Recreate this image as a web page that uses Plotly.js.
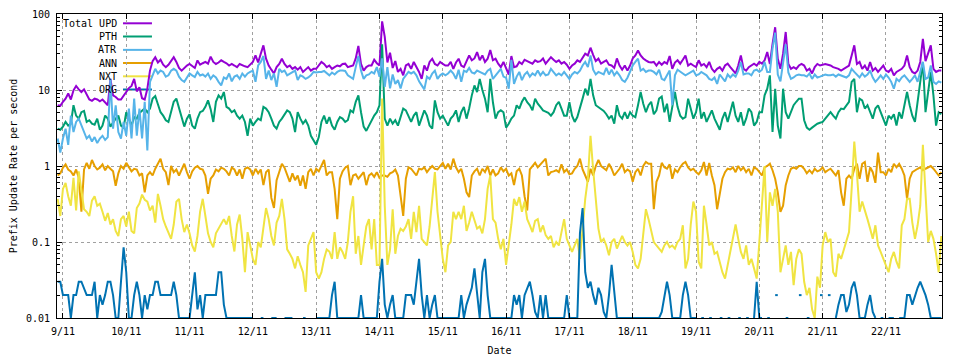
<!DOCTYPE html>
<html><head><meta charset="utf-8">
<script src="https://cdn.plot.ly/plotly-3.0.1.min.js"></script>
<style>html,body{margin:0;padding:0;background:#fff}#chart{width:960px;height:360px}</style>
</head><body><div id="chart"></div>
<script>
// hourly samples starting 2023-11-08 22:00
const startUTC = Date.UTC(2023, 10, 8, 22);

const totalUpd = [
6.3,6.2,7,7.7,9,7.5,9.9,11.3,10.2,9.4,
10.2,8.7,7.5,7.2,7.7,7.5,7.1,7.5,6.8,6.3,
14,8.5,8.1,7.5,7.5,8.5,9.4,10.6,11.3,14,
9.6,10.9,7.8,7.5,10.4,18,24,27,23,25,
21.5,20,21.5,24,27,23.4,19.5,18,19.5,21,
22,20.5,19.5,24.5,21.5,22.5,
23.4,22.2,27.5,23.4,22,23,24.6,23.4,22.5,21,
22,21,20,22,21,20.5,20,21.5,23.4,28.5,
23,30,38.7,25.8,21,18.5,16.5,20,22,25.8,
22,20,21,19,20,18.5,20,17.3,18.5,20,
18,19,19,21,23.4,22,20,21,19,20,
21,20.5,22,22.2,20,20.5,21,
26,38,22,18,20,21,21,25,22.5,21,
80,50,23,31,19.5,24,17.3,19,15.6,21,
22,19,23.4,20,17.3,14,21,18,23.4,25.8,
22,21,23.4,22,21,21,23.4,19,23,25.8,
21,20,24.6,28.5,24.6,26,31.6,24.6,28.5,23.4,
25.8,33.5,24.6,25.8,22.2,20,23.4,
19,16,28,20,20.5,23.4,22,25,24,23,
22.2,24.6,23.4,24,26,22.2,24.6,27,25,23.4,
24.6,22.2,23.4,21.5,19,21,22.2,24.6,23.4,26,
30,28.5,36,29,24,25.8,22.2,23.4,24.6,21.5,
21,19.5,26,21,18.5,21,18,21,26,28.5,
33,28.5,26,24.6,23.4,23,
23.4,21,23.4,21.5,23.4,22.2,28,19,23,24.6,
22.2,25,28.5,21,22.2,21,20,24.6,21,22,
20,23.4,19,17.3,19,20,18,21,22.2,20,
18,16.5,21,28.5,19,18,20,21,22.2,21,
23.4,22.2,24.6,31.6,22,40,67,25.8,19,30,
58,22,19,20,19,21,22,
21,18,19,16.5,20,22,21,21.5,22,21.5,
21,20,19.5,19,18,19,20,21,28.5,38.7,
22,23.4,19,21,18,23.4,18,19.5,17.3,19,
21,18,17.3,19,15.6,17.3,18,19,21,28.5,
20,17.3,16.5,18,23.4,47,24,31.6,38.7,19,
17.3,18,18
];

const pth = [
3.1,3.0,3.3,3.8,3.4,3.6,6.3,4.6,4.2,5.1,
5.3,3.8,4.0,3.6,3.5,4.2,3.0,3.4,4.6,4.2,
3.3,3.8,4.2,4.6,3.4,3.2,5.1,4.2,3.4,4.4,
4.2,5.0,5.4,5.7,5.1,5.7,7.7,8.3,6.5,5.1,
4.6,4.0,3.8,5.1,7.0,7.7,5.7,4.2,3.3,4.2,
4.8,3.4,3.1,4.2,5.1,5.3,
6.0,7.3,5.6,3.8,7.0,8.5,7.7,9.4,6.0,5.7,
5.1,5.4,4.6,4.2,4.6,3.8,2.5,4.2,3.4,3.8,
4.2,4.0,6.0,5.7,5.1,4.2,3.4,3.1,3.8,4.2,
4.8,5.4,5.1,4.2,2.8,5.1,4.2,3.6,4.0,3.4,
2.5,2.2,1.9,2.4,3.8,4.6,3.6,4.4,3.4,3.0,
3.8,4.4,4.2,3.8,4.0,5.4,5.1,
7,8.5,5.1,3.3,2.9,3.4,3.8,4.6,5.1,6.3,
40,4.2,3.4,4.2,3.6,4.0,3.4,4.6,5.7,5.4,
4.6,3.8,4.6,5.1,3.4,4.2,5.4,4.6,3.4,3.1,
7.3,5.1,4.2,4.6,4.0,3.4,4.2,4.6,5.4,3.8,
5.1,6.0,4.2,5.7,8.5,11.5,9.4,14,10,7.7,
5.1,14,6.9,4.2,5.1,5.4,5.1,
3.2,3.6,4.2,4.6,6.3,5.7,7,8,6.9,6.3,
5.4,7.7,6.6,6.0,5.4,5.2,5.0,4.6,5.1,6.3,
7.0,5.7,4.6,4.6,6.9,4.6,3.8,4.4,5.7,7.7,
10.4,8.5,14,8.5,6.3,5.9,5.6,5.3,4.8,4.2,
4.6,3.6,6.3,4.6,4.2,5.1,4.2,5.1,4.6,4.4,
6.3,9.4,6.6,5.1,6.3,7,
4.8,5.4,7.7,8.2,5.1,6.6,3.8,5.7,9.4,6.0,
4.6,4.2,4.4,7.7,5.7,4.2,5.1,7.7,4.2,5.1,
3.8,4.6,5.4,4.2,3.6,3.0,4.2,5.1,3.8,5.1,
7.0,4.6,3.8,5.1,3.4,4.2,5.7,5.1,3.4,3.8,
5.1,5.1,8.5,10.4,15.6,2.8,10.4,3.4,2.3,10.4,
5.1,4.2,5.1,6.3,7.0,7.7,7.7,
4.0,3.2,3.0,3.2,3.4,3.6,3.7,3.8,4.2,4.6,
5.1,4.6,4.2,5.1,5.7,5.6,6.3,7,12.8,14,
5.1,7.7,7.3,5.7,6.3,5.1,4.2,5.7,6.3,5.1,
4.2,3.4,4.6,4.2,4.8,3.4,5.1,4.2,6.3,9.4,
6.3,4.6,3.8,7,14,23.4,5.1,9.4,17.3,8.5,
3.4,5.1,4.8
];

const atr = [
2.3,1.5,2.3,3.1,1.9,4.6,2.8,3.8,4.2,3.4,
2.8,2.3,2.5,2.1,2.4,2.0,2.3,2.5,2.2,2.4,
14,3.1,6.3,2.8,2.3,3.8,2.5,5.7,2.3,7.7,
2.5,5.7,2.3,7,1.6,12.8,15.6,19,16.5,18,
17.3,15,15.6,18,19,18,15,13.5,12.8,14.5,
16.5,15.6,14.8,17.3,15.5,16,
15,16.5,14,15.6,14.6,12.8,11.5,14.6,14,16.5,
13,15,15.6,14,16.5,15,16.5,17.3,18,12.8,
21,23.4,28,14,18,13.5,16.5,11,19,17.3,
18,15.6,16.5,17.3,18,13.5,15.6,15,14,14.6,
15.6,17.3,17,17.3,17.3,17.8,16.5,15.6,17,16,
17.3,18,18,17.8,15.6,14.6,14,
20,28,18,14,15.6,16,17.3,16.5,20,15,
26,11,20,10.5,16,12,13.5,10.5,14,15.6,
17.3,16.5,17.3,15.6,13,11.5,10.2,15,14,16.5,
18,14,15.6,16.5,15.6,16.5,18,16.5,14,18.5,
12.8,18,17.3,19.5,17,16.5,18,17.3,16.5,16,
18,19,14,15.6,17.3,19,15,
14.5,10.4,25,12,15,17.3,13.5,16,17.3,15,
16.5,15.6,18,15.6,17.3,15.6,16,19,17,15.6,
16.5,15.6,17.3,15.6,14,16,17.3,16.5,18,21,
23.4,20,28.5,18.5,16,17.3,16.5,16,19.5,16,
18.5,15.6,17.3,15.6,13.5,12.8,14.5,17.3,21,23.4,
25.8,18,19,17.3,18,18,
17.3,16,18.5,14,13.5,15.6,18,6.3,15.6,18.5,
17.3,16.5,15.6,16.5,17.3,18,15.6,16,17.3,16.5,
15.6,14,13.5,14.6,12,16,14.6,13,16,14.6,
16,15,18,23.4,16,16.5,16.5,15.6,18,18.5,
17.3,18.5,23.4,17.3,17.3,35,57,16,13,22,
40,17,14,14.6,15.6,16,15.6,
15.6,15,16.5,14,16,14.6,15,15.6,16,15.6,
15.6,16,15,16,15.6,15,14.6,15.6,19,17.3,
16,14.6,16.5,15,16,18,14.6,12.8,14,15.6,
14,16,14.6,12.8,10.4,14,13,14.6,15.6,14,
12.8,14,15.6,12.8,17.3,23.4,14,14.6,21,12.8,
12,13,12.5
];

const ann = [
0.75,0.8,0.95,1.05,0.9,0.85,0.75,0.9,0.7,0.25,
0.9,1.1,0.92,1.2,1.0,0.9,0.95,1.05,0.88,1.0,
0.92,0.85,0.55,0.8,1.0,0.92,1.1,0.96,0.85,0.92,
0.9,0.75,0.8,0.45,0.75,0.83,0.75,0.92,1.05,1.25,
0.92,0.83,0.56,1.0,0.83,0.9,0.75,0.92,1.07,0.83,
0.68,0.85,0.95,1.0,0.92,0.9,
0.75,0.43,0.68,0.75,0.9,0.85,0.95,0.92,0.85,0.75,
0.95,0.9,0.75,0.9,0.68,0.92,0.96,0.9,0.75,0.92,
0.8,0.9,0.56,0.83,0.9,0.38,0.28,0.65,0.85,1.07,
0.95,0.75,0.62,0.8,0.65,0.75,0.55,0.75,0.5,0.83,
0.92,0.75,0.92,0.85,1.0,1.2,0.75,0.83,0.83,0.5,
0.2,0.68,0.85,0.95,1.0,0.56,0.75,
0.78,0.68,0.75,0.83,0.56,0.75,0.8,0.72,0.83,0.7,
0.75,0.75,0.72,0.8,0.83,0.9,0.75,0.37,0.22,0.68,
0.96,0.92,0.83,0.75,0.92,0.9,0.96,0.83,0.92,1.0,
0.92,0.9,1.0,1.1,0.92,1.07,0.9,1.25,0.96,0.83,
0.92,0.68,0.45,0.39,0.75,0.85,0.92,0.75,0.92,0.83,
1.0,0.75,0.9,0.75,0.8,0.96,0.85,
0.92,0.75,0.8,0.56,0.85,0.92,0.75,0.4,0.26,0.9,
1.0,1.1,0.96,1.05,1.15,1.25,0.75,0.83,0.85,0.88,
0.83,1.05,0.83,0.9,0.78,0.8,0.92,1.0,1.25,0.9,
0.75,0.62,0.92,0.75,1.0,1.2,1.0,0.95,0.88,1.07,
0.92,0.75,0.83,0.92,1.07,0.83,0.9,0.85,0.62,0.83,
0.92,0.75,1.0,1.13,1.07,1.07,
0.27,0.62,0.75,1.1,0.96,0.92,1.05,0.68,0.9,0.83,
0.96,1.07,1.13,0.96,0.88,0.92,0.83,0.78,0.88,1.13,
0.75,1.1,0.75,0.56,0.27,0.45,0.68,0.83,0.92,0.9,
0.96,0.83,1.0,0.88,0.96,0.83,0.92,0.75,0.96,0.92,
0.83,0.75,0.96,1.0,1.07,0.88,0.68,0.45,0.25,0.3,
0.56,0.75,0.92,0.96,0.92,1.0,1.0,
0.92,0.8,0.88,0.8,0.92,0.85,0.88,0.96,0.83,0.88,
0.92,0.83,0.75,0.88,0.45,0.3,0.68,0.75,0.68,0.92,
1.07,0.68,1.07,1.13,0.62,0.96,0.83,0.6,1.5,0.83,
0.83,0.75,0.92,0.83,1.07,0.96,1.07,0.92,0.75,0.37,
0.68,0.83,0.88,0.92,0.96,0.88,0.92,0.96,1.0,0.92,
0.83,0.75,0.83
];

const nxt = [
0.37,0.22,0.5,0.6,0.4,0.3,0.7,0.26,0.85,0.5,
0.27,0.25,0.22,0.35,0.4,0.3,0.32,0.25,0.19,0.24,
0.17,0.2,0.14,0.12,0.2,0.22,0.16,0.25,0.14,0.13,
0.28,0.32,0.42,0.36,0.34,0.26,0.3,0.18,0.43,0.3,
0.2,0.16,0.13,0.11,0.17,0.34,0.37,0.2,0.135,0.17,
0.13,0.09,0.075,0.12,0.25,0.37,
0.22,0.13,0.1,0.085,0.13,0.15,0.18,0.2,0.17,0.22,
0.12,0.075,0.17,0.23,0.11,0.04,0.135,0.09,0.06,0.05,
0.1,0.085,0.17,0.28,0.2,0.12,0.09,0.18,0.22,0.37,
0.2,0.08,0.07,0.06,0.045,0.065,0.05,0.04,0.022,0.09,
0.11,0.135,0.04,0.033,0.04,0.06,0.08,0.075,0.06,0.135,
0.06,0.085,0.074,0.06,0.1,0.25,0.4,
0.07,0.12,0.05,0.09,0.16,0.2,0.08,0.2,0.05,0.05,
7.7,0.3,0.05,0.08,0.27,0.07,0.12,0.15,0.14,0.16,
0.2,0.11,0.25,0.135,0.3,0.11,0.1,0.09,0.16,0.4,
0.83,0.25,0.12,0.06,0.04,0.09,0.1,0.25,0.2,0.25,
0.2,0.3,0.14,0.18,0.25,0.2,0.15,0.16,0.13,0.2,
0.5,0.75,0.2,0.18,0.11,0.08,0.11,
0.05,0.09,0.17,0.37,0.3,0.39,0.25,0.34,0.2,0.165,
0.135,0.19,0.2,0.135,0.165,0.123,0.11,0.12,0.085,0.1,
0.09,0.135,0.2,0.11,0.09,0.074,0.09,0.11,0.06,0.16,
0.37,0.68,2.5,0.9,0.37,0.15,0.1,0.11,0.09,0.067,
0.1,0.11,0.082,0.1,0.12,0.1,0.09,0.1,0.074,0.05,
0.045,0.06,0.14,0.27,0.2,0.14,
0.1,0.09,0.082,0.074,0.09,0.1,0.085,0.09,0.082,0.1,
0.11,0.166,0.045,0.06,0.17,0.34,0.25,0.055,0.045,0.3,
0.17,0.09,0.1,0.07,0.074,0.055,0.04,0.033,0.05,0.074,
0.11,0.17,0.11,0.074,0.06,0.09,0.05,0.06,0.045,0.033,
0.1,0.35,1.0,0.1,0.45,0.3,0.5,0.25,0.04,0.06,
0.09,0.05,0.074,0.027,0.06,0.08,0.07,
0.03,0.02,0.025,0.013,0.01,0.035,0.025,0.09,0.135,0.1,
0.11,0.04,0.035,0.07,0.06,0.08,0.1,0.135,0.5,2.1,
0.8,0.25,0.34,0.25,0.2,0.15,0.11,0.166,0.09,0.074,
0.06,0.05,0.04,0.06,0.074,0.055,0.045,0.166,0.2,0.37,
0.37,0.18,0.11,0.166,0.3,1.9,0.4,0.1,0.14,0.11,
0.07,0.04,0.12
];

const org = [
0.03,0.03,0.02,0.02,0.02,0.01,0.02,0.02,0.03,0.03,
0.025,0.02,0.02,0.02,0.03,0.01,0.02,0.015,0.02,0.03,
0.03,0.02,0.01,0.01,0.03,0.085,0.04,0.01,0.01,0.02,
0.03,0.02,0.01,0.02,0.013,0.02,0.02,0.03,0.03,0.02,
0.02,0.02,0.02,0.02,0.03,0.02,0.01,0.01,0.01,0.01,
0.01,0.02,0.04,0.013,0.02,0.01,0.02,0.02,0.02,0.02,
0.02,0.04,0.04,0.015,0.01,
0.01,0.01,0.01,0.01,0.01,0.01,0.01,0.01,0.01,0.01,
null,null,0.01,0.01,null,null,0.01,0.01,0.01,null,
null,0.01,0.01,0.01,0.01,null,null,null,0.01,0.01,
null,null,null,0.01,0.01,0.01,0.01,0.01,0.01,0.02,
0.03,0.01,0.01,0.01,0.01,0.01,0.01,0.01,
0.01,0.01,0.02,0.01,0.01,0.01,0.01,0.01,0.01,0.03,
0.06,0.015,0.01,0.015,0.02,0.01,0.01,0.01,0.01,0.02,
0.02,0.02,0.015,0.03,0.06,0.02,0.01,0.02,0.01,0.015,
0.02,0.01,0.01,0.01,0.01,0.01,0.01,0.01,0.01,0.01,
0.02,0.01,0.015,0.02,0.025,0.045,0.02,0.01,0.04,0.06,
0.02,0.01,0.01,0.01,0.01,0.01,0.01,
0.01,0.01,0.01,0.02,0.015,0.02,0.01,0.02,0.025,0.03,
0.02,0.012,0.01,0.02,0.01,0.02,0.01,0.01,0.01,0.01,
0.01,0.01,0.01,0.02,0.01,0.01,0.01,0.01,0.13,0.28,
0.04,0.025,0.03,0.02,0.015,0.025,0.02,0.012,0.01,0.02,
0.05,0.02,0.01,0.01,0.01,0.01,0.01,0.01,0.01,0.01,
0.01,0.01,0.01,0.01,0.01,0.01,
0.01,0.01,0.01,0.012,0.02,0.03,0.02,0.01,0.01,0.01,
0.01,0.02,0.03,0.02,0.01,0.01,0.01,null,0.01,0.01,
null,0.01,0.01,null,null,0.01,0.01,null,0.01,0.01,
null,null,0.01,0.01,null,0.01,0.01,null,0.01,0.03,
0.01,0.01,null,0.01,0.01,null,0.02,0.02,null,null,
0.01,0.01,null,0.01,null,0.02,0.02,
null,0.01,0.01,null,0.01,null,0.02,0.02,null,0.02,
0.02,null,0.01,0.015,0.02,0.02,0.012,0.015,0.025,0.03,
0.02,0.01,0.01,0.01,0.015,0.02,0.012,0.01,null,0.01,
0.01,null,0.01,0.01,0.01,null,0.01,0.01,0.01,0.02,
0.02,0.015,0.02,0.025,0.03,0.025,0.02,0.015,0.01,0.01,
0.01,0.01,0.01
];

const seriesNames = ['Total UPD', 'PTH', 'ATR', 'ANN', 'NXT', 'ORG'];
const seriesColors = ['#9400d3', '#009e73', '#56b4e9', '#e69f00', '#f0e442', '#0072b2'];
const seriesData = [totalUpd, pth, atr, ann, nxt, org];

const dayTicks = ['2023-11-09','2023-11-10','2023-11-11','2023-11-12','2023-11-13','2023-11-14','2023-11-15',
                  '2023-11-16','2023-11-17','2023-11-18','2023-11-19','2023-11-20','2023-11-21','2023-11-22'];
const dayLabels = ['9/11','10/11','11/11','12/11','13/11','14/11','15/11','16/11','17/11','18/11','19/11','20/11','21/11','22/11'];
const yTickVals = [0.01, 0.1, 1, 10, 100];
const yTickText = ['0.01', '0.1', '1', '10', '100'];

function pad(n) { return String(n).padStart(2, '0'); }
const times = totalUpd.map((_, i) => {
  const d = new Date(startUTC + i * 3600e3);
  return d.getUTCFullYear() + '-' + pad(d.getUTCMonth() + 1) + '-' + pad(d.getUTCDate()) + ' ' + pad(d.getUTCHours()) + ':00';
});

const minorY = [];
[0.01, 0.1, 1, 10].forEach(b => { for (let k = 2; k <= 9; k++) minorY.push(+(b * k).toPrecision(3)); });

const traces = seriesData.map((vals, s) => ({
  type: 'scatter', mode: 'lines', name: seriesNames[s],
  x: times, y: vals, connectgaps: false,
  line: { color: seriesColors[s], width: 2 },
  hoverinfo: 'skip'
}));

const font = { family: 'DejaVu Sans Mono, monospace', size: 10, color: '#000' };

// legend (gnuplot style: label then sample)
const rowY = [0.9694, 0.926, 0.882, 0.8388, 0.795, 0.7516];
const shapes = [{
  type: 'rect', xref: 'paper', yref: 'paper', x0: 0.001, x1: 0.113, y0: 0.727, y1: 0.993,
  fillcolor: '#ffffff', line: { width: 0 }, layer: 'between'
}];
const annotations = [];
seriesNames.forEach((n, s) => {
  annotations.push({ xref: 'paper', yref: 'paper', x: 0.0695, y: rowY[s], xanchor: 'right', yanchor: 'middle',
    text: n, showarrow: false, font: font });
  shapes.push({ type: 'line', xref: 'paper', yref: 'paper', x0: 0.0746, x1: 0.1073, y0: rowY[s], y1: rowY[s],
    line: { color: seriesColors[s], width: 2 }, layer: 'between' });
});

const layout = {
  width: 960, height: 360,
  margin: { l: 57, r: 18, t: 14, b: 42 },
  paper_bgcolor: '#ffffff', plot_bgcolor: '#ffffff',
  showlegend: false, font: font,
  xaxis: {
    type: 'date', range: ['2023-11-08 21:45', '2023-11-22 21:15'],
    tickmode: 'array', tickvals: dayTicks, ticktext: dayLabels,
    ticks: 'inside', ticklen: 5, tickcolor: '#000', tickwidth: 1,
    showline: true, linecolor: '#000', linewidth: 1, mirror: 'ticks',
    showgrid: true, gridcolor: '#a0a0a0', gridwidth: 1, griddash: '3px,3px',
    zeroline: false, ticklabelstandoff: 4, tickfont: font,
    title: { text: 'Date', font: font, standoff: 10 }
  },
  yaxis: {
    type: 'log', range: [-2, 2],
    tickmode: 'array', tickvals: yTickVals, ticktext: yTickText,
    ticks: 'inside', ticklen: 5, tickcolor: '#000', tickwidth: 1,
    showline: true, linecolor: '#000', linewidth: 1, mirror: 'ticks',
    showgrid: true, gridcolor: '#a0a0a0', gridwidth: 1, griddash: '3px,3px',
    zeroline: false, ticklabelstandoff: 4, tickfont: font,
    minor: { tickmode: 'array', tickvals: minorY, ticks: 'inside', ticklen: 3, tickcolor: '#000', showgrid: false },
    title: { text: 'Prefix Update Rate per second', font: font, standoff: 6 }
  },
  shapes: shapes,
  annotations: annotations
};

Plotly.newPlot('chart', traces, layout, { displayModeBar: false, staticPlot: true });
</script>
</body></html>
